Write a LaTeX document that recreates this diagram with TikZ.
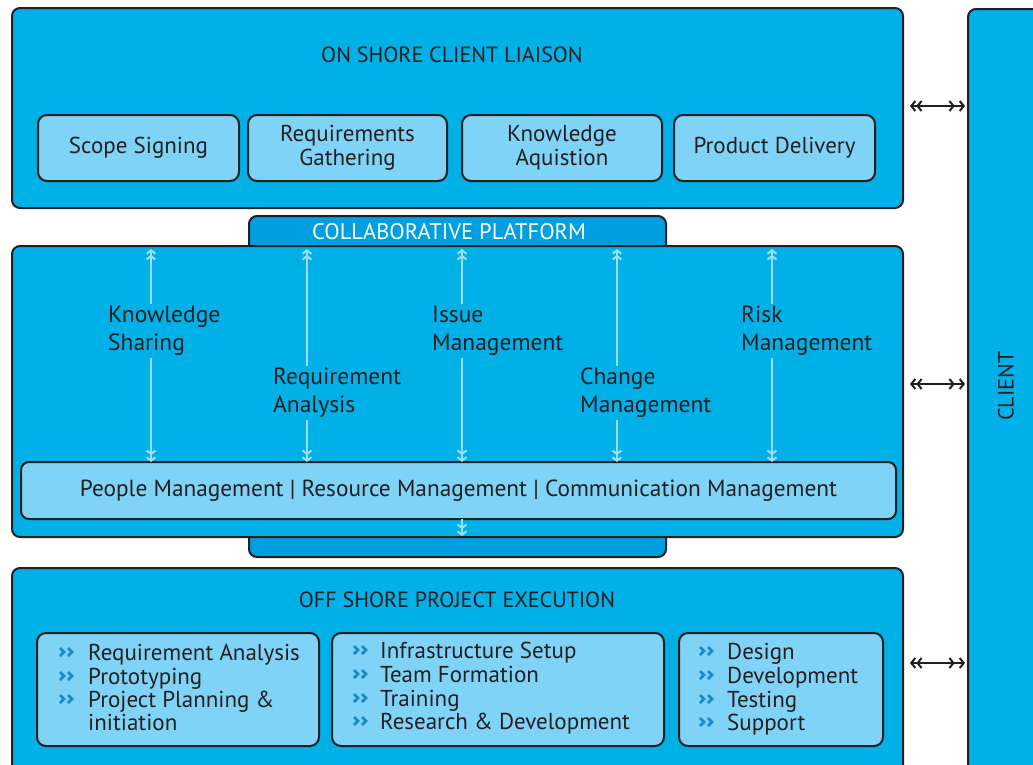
\documentclass[tikz,border=0pt]{standalone}
\usepackage{fontspec}
\setmainfont{PT Sans}
\usetikzlibrary{arrows.meta}
\definecolor{cyanM}{HTML}{00B0E6}
\definecolor{lightB}{HTML}{7FD3F7}
\definecolor{tabB}{HTML}{009FE0}
\definecolor{arrL}{HTML}{9CDDF7}
\definecolor{chevB}{HTML}{1B8AC4}
\definecolor{ink}{HTML}{231F20}
\tikzset{
  bigbox/.style={draw=ink, line width=2pt, fill=cyanM, rounded corners=8pt},
  subbox/.style={draw=ink, line width=2pt, fill=lightB, rounded corners=9pt},
  tabbox/.style={draw=ink, line width=2pt, fill=tabB, rounded corners=8pt},
  ttl/.style={font=\fontsize{22}{25}\selectfont, text=ink, inner sep=0pt},
  txt/.style={font=\fontsize{23}{24}\selectfont, text=ink, inner sep=0pt},
  lbl/.style={font=\fontsize{23.5}{28}\selectfont, text=ink, align=left, fill=cyanM, inner sep=2pt},
  item/.style={font=\fontsize{23}{24}\selectfont, text=ink, anchor=base west, inner sep=0pt},
  chevron/.pic={\draw[chevB, line width=2.6pt] (0,-4) -- (4,0) -- (0,4) (8,-4) -- (12,0) -- (8,4);},
  tipL/.style={line width=2pt, draw=arrL, {Straight Barb[length=3.5pt,width=9pt,sep=1pt]Straight Barb[length=3.5pt,width=9pt]}-{Straight Barb[length=3.5pt,width=9pt,sep=1pt]Straight Barb[length=3.5pt,width=9pt]}},
  tipD/.style={line width=2pt, draw=arrL, -{Straight Barb[length=3.5pt,width=9pt,sep=1pt]Straight Barb[length=3.5pt,width=9pt]}},
  link/.style={line width=2pt, draw=ink, {Straight Barb[length=4pt,width=10pt,sep=4pt]Straight Barb[length=4pt,width=10pt]}-{Straight Barb[length=4pt,width=10pt,sep=4pt]Straight Barb[length=4pt,width=10pt]}, shorten <=3pt, shorten >=3pt}
}
\begin{document}
\begin{tikzpicture}[x=1pt,y=-1pt]
\useasboundingbox (0,0) rectangle (1033,764);
% client
\draw[bigbox] (968,9) rectangle (1050,790);
\node[ttl, rotate=90] (client) at (1006,386) {CLIENT};
% top box
\draw[bigbox] (12,8) rectangle (903,208);
\coordinate (topR) at (903,106);
\node[ttl] (t1) at (452,55) {ON SHORE CLIENT LIAISON};
\node[subbox, minimum width=201pt, minimum height=66pt] (s1) at (138.5,148) {};
\node[txt] at (s1) {Scope Signing};
\node[subbox, minimum width=199pt, minimum height=66pt] (s2) at (347.5,148) {};
\node[txt, align=center] at (s2) {Requirements\\Gathering};
\node[subbox, minimum width=200pt, minimum height=66pt] (s3) at (562,148) {};
\node[txt, align=center] at (s3) {Knowledge\\Aquistion};
\node[subbox, minimum width=201pt, minimum height=66pt] (s4) at (774.5,148) {};
\node[txt] at (s4) {Product Delivery};
% tabs
\draw[tabbox] (249,216) rectangle (666,260);
\node[ttl, text=white, font=\fontsize{22.5}{25}\selectfont] (collab) at (449,232) {COLLABORATIVE PLATFORM};
\draw[tabbox] (249,520) rectangle (666,557);
% middle
\draw[bigbox] (12,246) rectangle (903,537);
\node[subbox, minimum width=875pt, minimum height=57pt, rounded corners=8pt] (bar) at (458.5,490.5) {};
\node[txt, font=\fontsize{23.3}{24}\selectfont] at (bar) {People Management | Resource Management | Communication Management};
% vertical arrows
\foreach \x/\n in {151/a1,307/a2,462/a3,617/a4,772/a5}{
  \coordinate (\n t) at (\x,248);
  \coordinate (\n b) at (\x,462);
  \draw[tipL] (\n t) -- (\n b);
}
\coordinate (d1) at (462,519);
\coordinate (d2) at (462,536);
\draw[tipD] (d1) -- (d2);
\node[lbl, anchor=north west] (l1) at (106,304) {Knowledge\\Sharing};
\node[lbl, anchor=north west] (l2) at (271,366) {Requirement\\Analysis};
\node[lbl, anchor=north west] (l3) at (430,304) {Issue\\Management};
\node[lbl, anchor=north west] (l4) at (578,366) {Change\\Management};
\node[lbl, anchor=north west] (l5) at (739,304) {Risk\\Management};
% bottom box
\draw[bigbox] (12,568) rectangle (903,790);
\node[ttl] (t3) at (457,600) {OFF SHORE PROJECT EXECUTION};
\node[subbox, minimum width=282pt, minimum height=113pt, anchor=north west] (b1) at (36,632) {};
\node[subbox, minimum width=332pt, minimum height=113pt, anchor=north west] (b2) at (331,632) {};
\node[subbox, minimum width=204pt, minimum height=113pt, anchor=north west] (b3) at (678,632) {};
\foreach \y/\t [count=\i] in {660/Requirement Analysis,684/Prototyping,707/Project Planning \&}{
  \pic at (60,\y-8) {chevron};
  \node[item] (i1\i) at (88,\y) {\t};
}
\node[item] (i14) at (88,730) {initiation};
\foreach \y/\t [count=\i] in {658/Infrastructure Setup,682/Team Formation,706/Training,729/Research \& Development}{
  \pic at (354,\y-8) {chevron};
  \node[item] (i2\i) at (380,\y) {\t};
}
\foreach \y/\t [count=\i] in {659/Design,683/Development,707/Testing,730/Support}{
  \pic at (700,\y-8) {chevron};
  \node[item] (i3\i) at (727,\y) {\t};
}
% links to client
\coordinate (cl1) at (968,106);
\coordinate (mR) at (903,384);
\coordinate (cl2) at (968,384);
\coordinate (bR) at (903,663);
\coordinate (cl3) at (968,663);
\draw[link] (topR) -- (cl1);
\draw[link] (mR) -- (cl2);
\draw[link] (bR) -- (cl3);
\end{tikzpicture}
\end{document}
